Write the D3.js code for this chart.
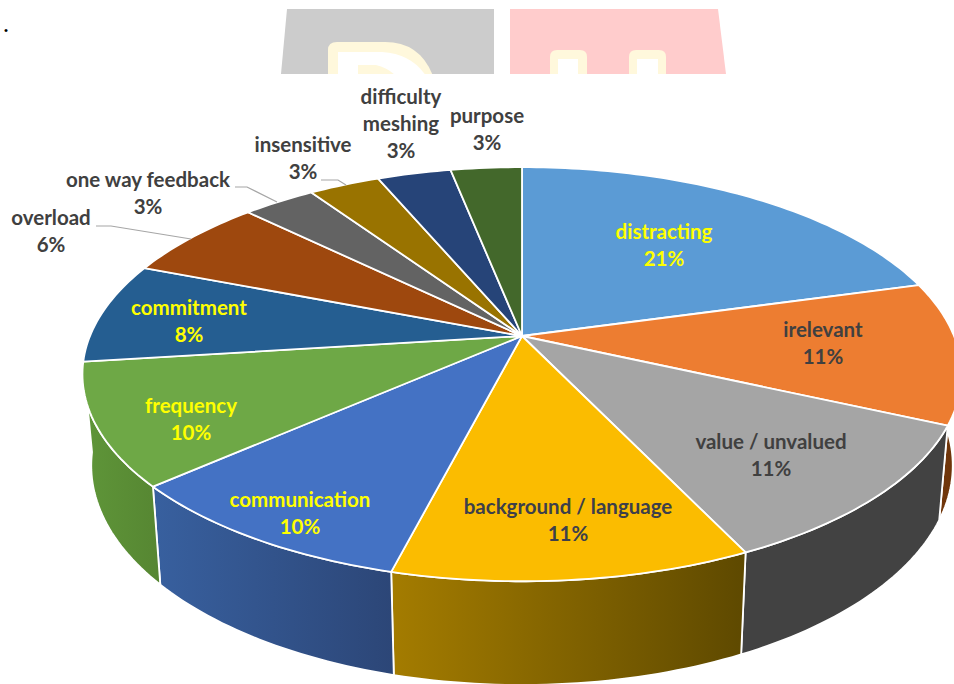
<!DOCTYPE html>
<html>
<head>
<meta charset="utf-8">
<script src="https://d3js.org/d3.v7.min.js"></script>
<style>
  html, body { margin: 0; padding: 0; background: #fff; overflow: hidden; }
  svg { display: block; }
  text { font-family: Lato, "Open Sans", sans-serif; font-weight: 700; text-anchor: middle; }
</style>
</head>
<body>
<svg id="chart" width="954" height="684"></svg>
<script>
// slice data, clockwise from 12 o'clock
var categories = ["distracting", "irelevant", "value / unvalued", "background / language", "communication",
    "frequency", "commitment", "overload", "one way feedback", "insensitive", "difficulty meshing", "purpose"];
var shares = [20.7, 11.1, 11.1, 11.1, 9.5, 9.5, 7.9, 6.4, 3.2, 3.13, 3.24, 3.13];

// label layout, separate from the data (lines of the name, centre x, baseline of the first line)
var labelLines = [["distracting"], ["irelevant"], ["value / unvalued"], ["background / language"], ["communication"],
    ["frequency"], ["commitment"], ["overload"], ["one way feedback"], ["insensitive"], ["difficulty", "meshing"], ["purpose"]];
var labelX = [664, 823, 771, 568, 300, 191, 189, 51, 148, 303, 401, 487];
var labelY = [239, 337, 449, 514, 507, 413, 315, 225, 187, 152, 104, 123];

var topColors = ["#5b9bd5", "#ed7d31", "#a5a5a5", "#fbbc00", "#4472c4", "#6ea846", "#255e91", "#9e480e", "#636363", "#997300", "#264478", "#43682b"];
var textColors = ["#ffff00", "#404040", "#404040", "#3d3f4a", "#ffff00", "#ffff00", "#ffff00", "#404040", "#404040", "#404040", "#404040", "#404040"];
// side wall gradient, left colour then right colour
var wallLeft = ["#3f6f9a", "#7d3e10", "#424242", "#a47c00", "#38609f", "#5f9639", "#1a4468", "#6e3209", "#454545", "#6b5000", "#1a2f54", "#2f491e"];
var wallRight = ["#3f6f9a", "#6a3208", "#424242", "#5e4900", "#2c4677", "#568632", "#1a4468", "#6e3209", "#454545", "#6b5000", "#1a2f54", "#2f491e"];
var frontSlices = ["irelevant", "value / unvalued", "background / language", "communication", "frequency"];

var svg = d3.select("#chart");
var defs = svg.append("defs");

// perspective view of the disc: apex of the pie and the foreshortening
var apexX = 522, apexY = 336, spanX = 432, spanY = 200, persp = 0.1845;

function topPoint(angle) {
    var u = Math.sin(angle), v = Math.cos(angle), w = 1 + persp * v;
    return [apexX + spanX * u / w, apexY - spanY * v / w];
}

// floor of the pie, found from the rim corners of the picture
function bottomPoint(angle) {
    var p = topPoint(angle);
    return [apexX + 0.98 * (p[0] - apexX), 425 + 1.06 * (p[1] - apexY)];
}

function rim(fn, a0, a1) {
    var n = Math.max(2, Math.ceil((a1 - a0) / 0.02));
    return d3.range(n + 1).map(function(i) { return fn(a0 + (a1 - a0) * i / n); });
}

var line = d3.line();
var arcs = d3.pie().sort(null).value(function(d) { return d; })(shares);

drawBackdrop();
drawWalls();
drawTops();
drawLeaders();
drawLabels();

// page remains behind the chart: the cropped picture above it and the stray text
function drawBackdrop() {
    var cream = "#fff8dc";
    defs.append("clipPath").attr("id", "band")
        .append("rect").attr("x", 0).attr("y", 0).attr("width", 954).attr("height", 74);
    var g = svg.append("g").attr("clip-path", "url(#band)");
    g.append("path").attr("fill", "#cccccc").attr("d", "M287,9L494,9L494,74L281,74Z");
    g.append("path").attr("fill", "#ffcccc").attr("d", "M510,9L718,9L726,74L510,74Z");
    g.append("path").attr("fill", cream).attr("d", "M328,76L328,50Q328,42 337,42L385,42Q420,42 433,76Z");
    g.append("path").attr("fill", "#ffffff").attr("d", "M338,76L338,52L382,52Q412,54 426,76Z");
    g.append("path").attr("fill", cream).attr("d", "M358,76L358,65L376,65Q388,68 396,76Z");
    [[550, 587, 558, 578], [629, 666, 637, 658]].forEach(function(b) {
        g.append("path").attr("fill", cream)
            .attr("d", "M" + b[0] + ",76L" + b[0] + ",57Q" + b[0] + ",50 " + (b[0] + 7) + ",50L" + (b[1] - 7) + ",50Q" + b[1] + ",50 " + b[1] + ",57L" + b[1] + ",76Z");
        g.append("path").attr("fill", "#ffffff")
            .attr("d", "M" + b[2] + ",76L" + b[2] + ",59L" + b[3] + ",59L" + b[3] + ",76Z");
    });
    svg.append("text").attr("x", 6).attr("y", 32)
        .style("font-family", "'Liberation Serif', serif").style("font-weight", 400).style("font-size", "26px")
        .attr("fill", "#000").text(".");
}

function drawWalls() {
    var front = arcs.filter(function(d) { return frontSlices.indexOf(categories[d.index]) >= 0; });
    svg.append("g").selectAll("path")
        .data(front)
        .enter().append("path")
        .each(function(d) {
            var grad = defs.append("linearGradient").attr("id", "wall" + d.index);
            grad.append("stop").attr("offset", "0%").attr("stop-color", wallLeft[d.index]);
            grad.append("stop").attr("offset", "100%").attr("stop-color", wallRight[d.index]);
        })
        .attr("fill", function(d) { return "url(#wall" + d.index + ")"; })
        .attr("stroke", "#fff")
        .attr("stroke-width", 1.8)
        .attr("stroke-linejoin", "round")
        .attr("d", function(d) {
            var pts = rim(topPoint, d.startAngle, d.endAngle)
                .concat(rim(bottomPoint, d.startAngle, d.endAngle).reverse());
            return line(pts) + "Z";
        });
}

function drawTops() {
    svg.append("g").selectAll("path")
        .data(arcs)
        .enter().append("path")
        .attr("fill", function(d, i) { return topColors[i]; })
        .attr("stroke", "#fff")
        .attr("stroke-width", 1.8)
        .attr("stroke-linejoin", "round")
        .attr("d", function(d) {
            return line([[apexX, apexY]].concat(rim(topPoint, d.startAngle, d.endAngle))) + "Z";
        });
}

// thin leader lines of the labels outside the pie
function drawLeaders() {
    var leaders = [
        [[96, 226], [111, 226], [191, 239]],
        [[235, 187], [247, 187], [277, 202]],
        [[321, 180], [338, 180], [346, 185]]
    ];
    svg.append("g").selectAll("path")
        .data(leaders)
        .enter().append("path")
        .attr("fill", "none")
        .attr("stroke", "#a6a6a6")
        .attr("stroke-width", 1.2)
        .attr("d", line);
}

function drawLabels() {
    var g = svg.append("g").style("font-size", "20.5px");
    categories.forEach(function(name, i) {
        var lines = labelLines[i].concat([Math.round(shares[i]) + "%"]);
        lines.forEach(function(txt, k) {
            g.append("text")
                .attr("x", labelX[i])
                .attr("y", labelY[i] + k * 27)
                .attr("fill", textColors[i])
                .text(txt);
        });
    });
}
</script>
</body>
</html>
